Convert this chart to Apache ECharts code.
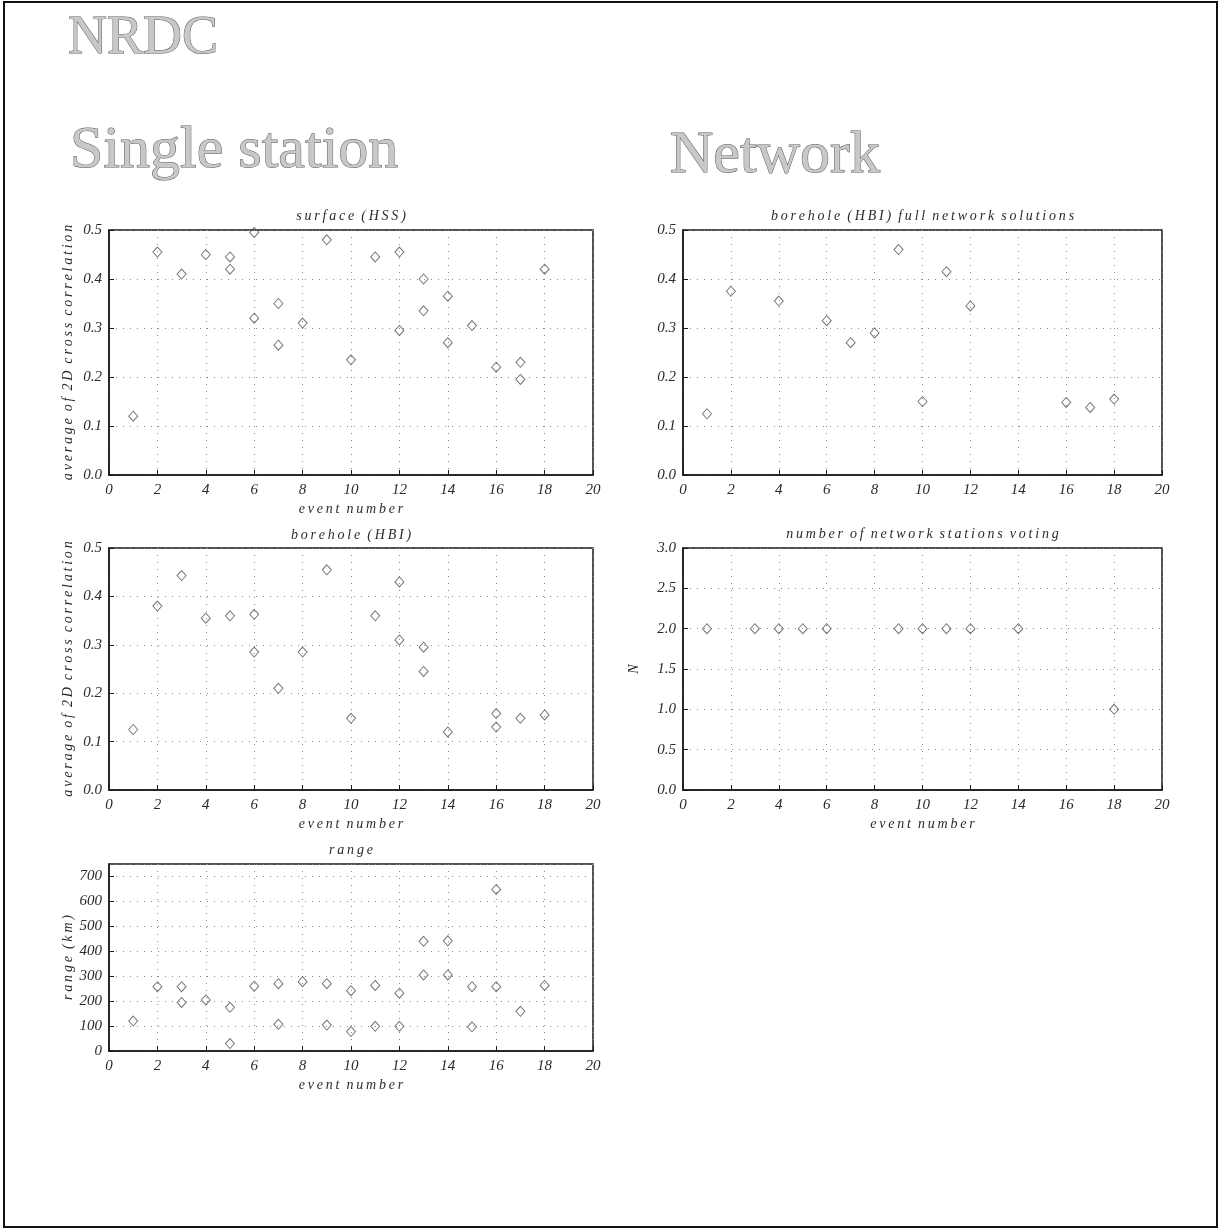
<!DOCTYPE html>
<html>
<head>
<meta charset="utf-8">
<script src="https://cdn.jsdelivr.net/npm/echarts@6/dist/echarts.min.js"></script>
<style>
  html, body { margin: 0; padding: 0; background: #fff; }
  #chart { width: 1220px; height: 1230px; }
</style>
</head>
<body>
<div id="chart"></div>
<script>
// Event numbers run 1..18; x axis spans 0..20
const eventRange = [0, 20];

// Single station, surface array (HSS): [event, average 2D cross correlation]
const surfaceHSS = [
  [1, 0.12], [2, 0.455], [3, 0.41], [4, 0.45], [5, 0.445], [5, 0.42],
  [6, 0.495], [6, 0.32], [7, 0.35], [7, 0.265], [8, 0.31], [9, 0.48],
  [10, 0.235], [11, 0.445], [12, 0.455], [12, 0.295], [13, 0.40], [13, 0.335],
  [14, 0.365], [14, 0.27], [15, 0.305], [16, 0.22], [17, 0.23], [17, 0.195],
  [18, 0.42]
];

// Single station, borehole array (HBI)
const boreholeHBI = [
  [1, 0.125], [2, 0.38], [3, 0.443], [4, 0.355], [5, 0.36], [6, 0.363],
  [6, 0.285], [7, 0.21], [8, 0.285], [9, 0.455], [10, 0.148], [11, 0.36],
  [12, 0.43], [12, 0.31], [13, 0.295], [13, 0.245], [14, 0.12], [16, 0.158],
  [16, 0.13], [17, 0.148], [18, 0.155]
];

// Single station, range to event in km
const rangeKm = [
  [1, 120], [2, 258], [3, 258], [3, 195], [4, 205], [5, 175], [5, 30],
  [6, 260], [7, 270], [7, 107], [8, 278], [9, 270], [9, 104], [10, 242],
  [10, 78], [11, 263], [11, 99], [12, 232], [12, 99], [13, 440], [13, 305],
  [14, 442], [14, 305], [15, 258], [15, 97], [16, 648], [16, 258], [17, 159],
  [18, 263]
];

// Network, borehole (HBI) full network solutions
const networkHBI = [
  [1, 0.125], [2, 0.375], [4, 0.355], [6, 0.315], [7, 0.27], [8, 0.29],
  [9, 0.46], [10, 0.15], [11, 0.415], [12, 0.345], [16, 0.148], [17, 0.138],
  [18, 0.155]
];

// Network, number of stations voting
const stationsVoting = [
  [1, 2], [3, 2], [4, 2], [5, 2], [6, 2], [9, 2], [10, 2], [11, 2],
  [12, 2], [14, 2], [18, 1]
];

// axis extents; the range axis stops at 750 without a label there
const corrTicks = { min: 0, max: 0.5, interval: 0.1, labelMax: true };
const votingTicks = { min: 0, max: 3, interval: 0.5, labelMax: true };
const rangeTicks = { min: 0, max: 750, interval: 100, labelMax: false };

const serif = '"Liberation Serif", "DejaVu Serif", serif';
const ink = '#1a1a1a';

// plotter-style lettering: loose letters, wide word gaps
const spaced = s => s.split(' ').map(w => w.split('').join('\u2009')).join('\u2002');

const grids = [
  { left: 109, top: 230, width: 484, height: 245 },  // surface (HSS)
  { left: 683, top: 230, width: 479, height: 245 },  // network borehole
  { left: 109, top: 548, width: 484, height: 242 },  // borehole (HBI)
  { left: 683, top: 548, width: 479, height: 242 },  // stations voting
  { left: 109, top: 864, width: 484, height: 187 }   // range
].map(g => Object.assign({
  show: true, borderColor: ink, borderWidth: 1.5,
  backgroundColor: 'transparent', outerBoundsMode: 'none'
}, g));

const labelStyle = {
  fontFamily: serif, fontStyle: 'italic', fontSize: 15, color: '#2a2a2a'
};
const nameStyle = {
  fontFamily: serif, fontStyle: 'italic', fontSize: 14, color: '#2a2a2a'
};
const splitStyle = { show: true, lineStyle: { color: '#8a8a8a', width: 1, type: [1, 6] } };

function xAxis(gridIndex, withName) {
  return {
    type: 'value', gridIndex,
    min: eventRange[0], max: eventRange[1], interval: 2,
    axisLine: { show: true, onZero: false, lineStyle: { color: ink, width: 1.5 } },
    axisTick: { show: true, inside: true, length: 5, lineStyle: { color: ink } },
    axisLabel: Object.assign({ margin: 8 }, labelStyle),
    splitLine: splitStyle,
    name: withName ? spaced('event number') : '',
    nameLocation: 'middle', nameGap: 27,
    nameTextStyle: nameStyle
  };
}

function yAxis(gridIndex, ticks, name, fmt, gap) {
  return {
    type: 'value', gridIndex,
    min: ticks.min, max: ticks.max, interval: ticks.interval,
    axisLine: { show: true, onZero: false, lineStyle: { color: ink, width: 1.5 } },
    axisTick: { show: true, inside: true, length: 5, lineStyle: { color: ink } },
    axisLabel: Object.assign({ margin: 7, formatter: fmt, showMaxLabel: ticks.labelMax }, labelStyle),
    splitLine: splitStyle,
    name: name ? spaced(name) : '',
    nameLocation: 'middle', nameGap: gap, nameRotate: 90,
    nameTextStyle: nameStyle
  };
}

const oneDecimal = v => v.toFixed(1);
const integer = v => String(Math.round(v));

function scatter(index, data) {
  return {
    type: 'scatter', xAxisIndex: index, yAxisIndex: index, data,
    symbol: 'diamond', symbolSize: [9, 10],
    itemStyle: { color: 'rgba(0,0,0,0)', borderColor: '#555', borderWidth: 1 },
    emphasis: { disabled: true }, silent: true
  };
}

function panelTitle(text, g, dy) {
  return {
    type: 'text', x: g.left + g.width / 2, y: g.top - dy,
    style: {
      text: spaced(text), font: 'italic 14px ' + serif, fill: '#2a2a2a',
      align: 'center', verticalAlign: 'middle'
    }, silent: true
  };
}

function heading(text, x, y, size) {
  return {
    type: 'text', x, y,
    style: {
      text, font: 'normal ' + size + 'px ' + serif,
      fill: '#c8c8c8', stroke: '#5a5a5a', lineWidth: 1,
      align: 'left', verticalAlign: 'top'
    }, silent: true
  };
}

const chart = echarts.init(document.getElementById('chart'), null, { renderer: 'canvas' });
chart.setOption({
  animation: false,
  backgroundColor: '#ffffff',
  grid: grids,
  xAxis: [xAxis(0, true), xAxis(1, false), xAxis(2, true), xAxis(3, true), xAxis(4, true)],
  yAxis: [
    yAxis(0, corrTicks, 'average of 2D cross correlation', oneDecimal, 34),
    yAxis(1, corrTicks, '', oneDecimal, 34),
    yAxis(2, corrTicks, 'average of 2D cross correlation', oneDecimal, 34),
    yAxis(3, votingTicks, 'N', oneDecimal, 42),
    yAxis(4, rangeTicks, 'range (km)', integer, 34)
  ],
  series: [
    scatter(0, surfaceHSS),
    scatter(1, networkHBI),
    scatter(2, boreholeHBI),
    scatter(3, stationsVoting),
    scatter(4, rangeKm)
  ],
  graphic: [
    {
      type: 'rect', shape: { x: 4, y: 2, width: 1213, height: 1225 },
      style: { fill: 'none', stroke: '#111', lineWidth: 2 }, silent: true
    },
    heading('NRDC', 68, 12, 54),
    heading('Single station', 70, 121, 60),
    heading('Network', 670, 126, 60),
    panelTitle('surface (HSS)', grids[0], 14),
    panelTitle('borehole (HBI) full network solutions', grids[1], 14),
    panelTitle('borehole (HBI)', grids[2], 13),
    panelTitle('number of network stations voting', grids[3], 14),
    panelTitle('range', grids[4], 14)
  ]
});
</script>
</body>
</html>
